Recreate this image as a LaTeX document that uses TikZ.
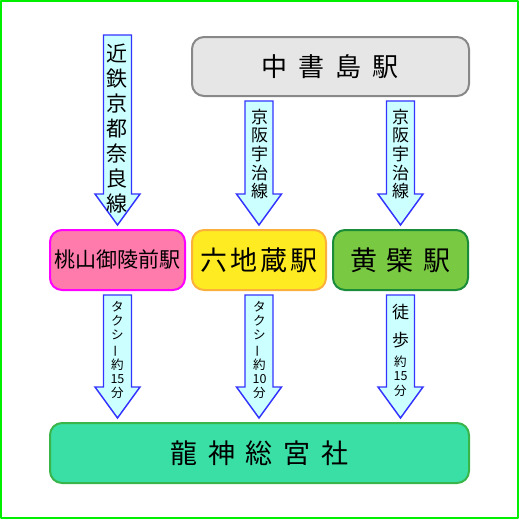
\documentclass[tikz,border=0pt]{standalone}
\usepackage{fontspec}
\setmainfont{Noto Sans CJK JP}
\usetikzlibrary{calc}

\definecolor{framegreen}{HTML}{00EE00}
\definecolor{grayfill}{HTML}{E6E6E6}
\definecolor{graydraw}{HTML}{888888}
\definecolor{pinkfill}{HTML}{FF7BAC}
\definecolor{pinkdraw}{HTML}{FF00FF}
\definecolor{yellowfill}{HTML}{FFEB22}
\definecolor{yellowdraw}{HTML}{FBB03B}
\definecolor{greenfill}{HTML}{7AC943}
\definecolor{greendraw}{HTML}{1A8C3A}
\definecolor{jadefill}{HTML}{3ADFA6}
\definecolor{jadedraw}{HTML}{39B54A}
\definecolor{arrowfill}{HTML}{CCFFFF}
\definecolor{arrowdraw}{HTML}{3333FF}

% spacing between the big characters
\newcommand{\jgap}[1]{\kern#1pt\relax}

% block arrow from top coordinate #1 down to tip coordinate #2
\newcommand{\blkarrow}[2]{%
  \draw[blockarrow] ($(#1)+(-14,0)$) -- ($(#1)+(14,0)$) -- ($(#2)+(14,-31)$)
    -- ($(#2)+(22.5,-31)$) -- (#2) -- ($(#2)+(-22.5,-31)$)
    -- ($(#2)+(-14,-31)$) -- cycle;}

\begin{document}
\begin{tikzpicture}[x=0.75pt,y=-0.75pt,line join=round,
  station/.style={rounded corners=9pt,line width=1.5pt,inner sep=0pt,
    minimum height=45pt,text=black},
  blockarrow/.style={fill=arrowfill,draw=arrowdraw,line width=1.1pt,line join=miter},
  vtext/.style={align=center,inner sep=0pt}]
  \useasboundingbox (0,0) rectangle (519,519);
  \draw[framegreen,line width=1.5pt] (1,1) rectangle (518,518);

  % stations
  \node[station,fill=grayfill,draw=graydraw,minimum width=207.75pt,
    minimum height=44.25pt,font=\fontsize{19.5pt}{22pt}\selectfont]
    (chusho) at (330.5,66.5) {中\jgap{8.25}書\jgap{8.25}島\jgap{8.25}駅};
  \node[station,fill=pinkfill,draw=pinkdraw,minimum width=101.25pt,
    font=\fontsize{15.75pt}{18pt}\selectfont]
    (momoyama) at (117.5,260) {桃山御陵前駅};
  \node[station,fill=yellowfill,draw=yellowdraw,minimum width=100.5pt,
    font=\fontsize{20.25pt}{23pt}\selectfont]
    (rokujizo) at (259,260) {六\jgap{2.25}地\jgap{2.25}蔵\jgap{2.25}駅};
  \node[station,fill=greenfill,draw=greendraw,minimum width=101.25pt,
    font=\fontsize{20.25pt}{23pt}\selectfont]
    (obaku) at (400.5,260) {黄\jgap{7.5}檗\jgap{7.5}駅};
  \node[station,fill=jadefill,draw=jadedraw,minimum width=314.25pt,
    font=\fontsize{20.25pt}{23pt}\selectfont]
    (ryujin) at (259.5,453) {龍\jgap{7.9}神\jgap{7.9}総\jgap{7.9}宮\jgap{7.9}社};

  % arrow ends
  \coordinate (t1) at (117.5,35);
  \path (momoyama.north) ++(0,-4) coordinate (h1);
  \path (rokujizo |- chusho.south) ++(0,4) coordinate (t2);
  \path (rokujizo.north) ++(0,-4) coordinate (h2);
  \path (obaku |- chusho.south) ++(0,4) coordinate (t3);
  \path (obaku.north) ++(0,-4) coordinate (h3);
  \path (momoyama.south) ++(0,4) coordinate (t4);
  \path (momoyama |- ryujin.north) ++(0,-4) coordinate (h4);
  \path (rokujizo.south) ++(0,4) coordinate (t5);
  \path (rokujizo |- ryujin.north) ++(0,-4) coordinate (h5);
  \path (obaku.south) ++(0,4) coordinate (t6);
  \path (obaku |- ryujin.north) ++(0,-4) coordinate (h6);

  \blkarrow{t1}{h1}
  \blkarrow{t2}{h2}
  \blkarrow{t3}{h3}
  \blkarrow{t4}{h4}
  \blkarrow{t5}{h5}
  \blkarrow{t6}{h6}

  % arrow labels
  \node[vtext,font=\fontsize{15.75pt}{18.75pt}\selectfont] (kintetsu) at (117.5,129)
    {近\\鉄\\京\\都\\奈\\良\\線};
  \node[vtext,font=\fontsize{12.75pt}{13.9pt}\selectfont] (keihan1) at (259.5,154)
    {京\\阪\\宇\\治\\線};
  \node[vtext,font=\fontsize{12.75pt}{13.9pt}\selectfont] (keihan2) at (400.5,154)
    {京\\阪\\宇\\治\\線};
  \node[vtext,font=\fontsize{9.4pt}{10.5pt}\selectfont] (taxi1) at (117.5,350)
    {タ\\ク\\シ\\\rotatebox[origin=c]{90}{ー}\\約\\15\\分};
  \node[vtext,font=\fontsize{9.4pt}{10.5pt}\selectfont] (taxi2) at (259.5,350)
    {タ\\ク\\シ\\\rotatebox[origin=c]{90}{ー}\\約\\10\\分};
  \node[vtext,font=\fontsize{12.75pt}{20.6pt}\selectfont] (toho) at (400.5,326)
    {徒\\歩};
  \node[vtext,font=\fontsize{9.4pt}{10.9pt}\selectfont] (walk) at (400.5,376)
    {約\\15\\分};
\end{tikzpicture}
\end{document}
